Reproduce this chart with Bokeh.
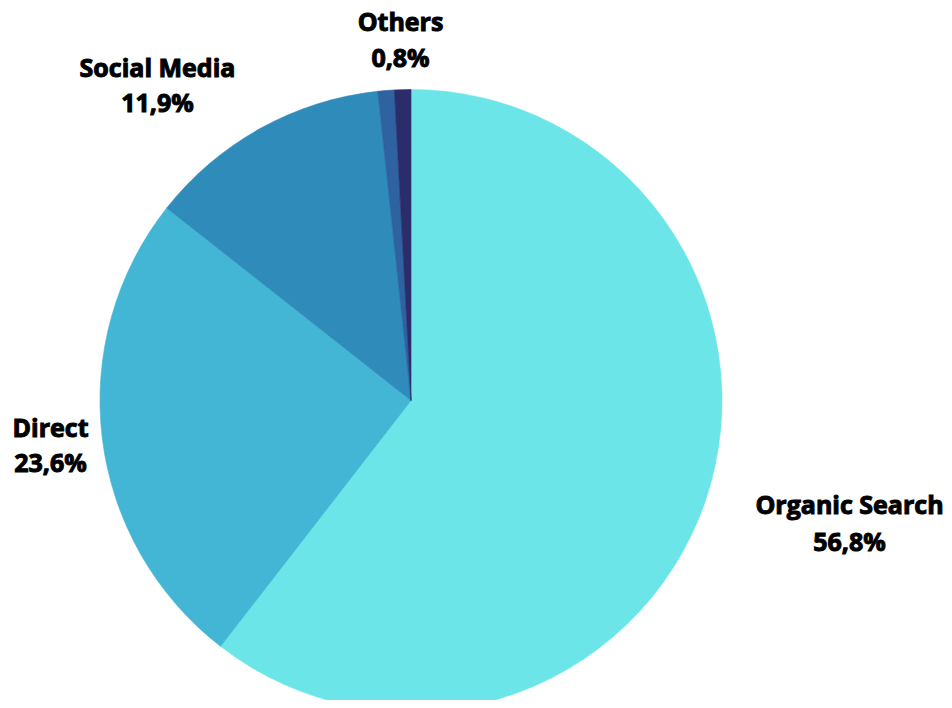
import math
from bokeh.plotting import figure
from bokeh.models import Range1d, ColumnDataSource
from bokeh.core.properties import value
from bokeh.embed import file_html
from bokeh.resources import INLINE

# ---- data ----
categories = ["Organic Search", "Direct", "Social Media", "", "Others"]
shares = [56.8, 23.6, 11.9, 0.8, 0.8]
share_labels = ["56,8%", "23,6%", "11,9%", "", "0,8%"]
colors = ["#6BE5E8", "#42B6D4", "#2E8BBA", "#2E62A0", "#2B2D6A"]

# ---- layout (page pixels) ----
W, H = 944, 700
CX, CY, R = 410.5, 400.0, 311.0   # pie centre / radius in page px
PAGE_OFF = 0


def to_x(px):
    return (px - CX) / R


def to_y(py):
    return (CY - py) / R


# label anchor positions (page px): name line, value line
label_pos = {
    "Organic Search": (849, 503, 540),
    "Direct": (50, 426, 461),
    "Social Media": (157, 66, 101),
    "Others": (400, 20, 56),
}

total = sum(shares)
starts, ends = [], []
a = math.pi / 2
for s in shares:
    starts.append(a)
    a = a - s / total * 2 * math.pi
    ends.append(a)

src = ColumnDataSource(dict(cat=categories, share=shares, start=starts, end=ends, color=colors))

p = figure(width=W, height=H, output_backend="svg", toolbar_location=None,
           x_range=Range1d(to_x(PAGE_OFF), to_x(PAGE_OFF + W)),
           y_range=Range1d(to_y(PAGE_OFF + H), to_y(PAGE_OFF)),
           min_border=0, min_border_left=0, min_border_right=0,
           min_border_top=0, min_border_bottom=0)
p.axis.visible = False
p.grid.visible = False
p.outline_line_color = None
p.background_fill_color = "white"
p.border_fill_color = "white"

p.wedge(x=0, y=0, radius=1, start_angle="start", end_angle="end", direction="clock",
        fill_color="color", line_color="color", line_width=0.6, source=src)

names, vals, lx, ly1, ly2 = [], [], [], [], []
for c, sl in zip(categories, share_labels):
    if c in label_pos:
        x, y1, y2 = label_pos[c]
        names.append(c)
        vals.append(sl)
        lx.append(to_x(x))
        ly1.append(to_y(y1))
        ly2.append(to_y(y2))

lsrc = ColumnDataSource(dict(x=lx, y1=ly1, y2=ly2, name=names, val=vals))
for col, ycol in (("name", "y1"), ("val", "y2")):
    p.text(x="x", y=ycol, text=col, source=lsrc, text_align="center", text_baseline="middle",
           text_font=value("Open Sans"), text_font_style="bold", text_font_size="25px",
           text_color="#000000", text_outline_color="#000000")

open("out.html", "w").write(file_html(p, INLINE))
